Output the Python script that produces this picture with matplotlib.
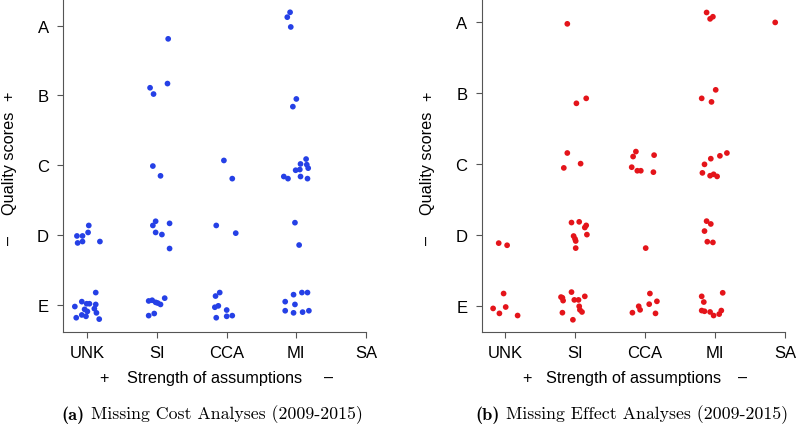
import matplotlib
matplotlib.use("Agg")
import matplotlib.pyplot as plt

# categories on the axes
categories = ['UNK', 'SI', 'CCA', 'MI', 'SA']
grades = ['E', 'D', 'C', 'B', 'A']

# (a) missing cost analyses, jittered points
cost_x = [0.85, 0.86, 0.93, 0.93, 1.01, 1.02, 1.18,
          1.12, 0.92, 0.99, 1.03, 0.82, 0.96, 1.00, 1.12, 1.10, 1.13, 0.92, 0.98, 0.84, 1.17,
          2.16, 1.90, 1.95, 2.15, 1.94, 2.05,
          1.94, 1.98, 2.18, 1.98, 2.07, 2.18,
          1.88, 1.93, 1.98, 2.01, 2.05, 2.11, 1.88, 1.96,
          2.96, 3.08, 2.85, 3.13,
          2.90, 2.84, 2.83, 2.88, 3.00, 2.85, 3.00, 3.08,
          3.87, 3.91, 3.92, 4.00, 3.95,
          4.14, 4.06, 4.15, 4.17, 3.99, 4.05, 3.82, 3.88, 4.06, 4.16,
          3.98, 4.04,
          4.08, 4.16, 3.96, 3.84, 3.98, 3.84, 3.96, 4.09, 4.18]
cost_y = [1.99, 1.89, 1.99, 1.91, 2.04, 2.14, 1.91,
          1.18, 1.05, 1.02, 1.02, 0.98, 0.94, 0.91, 1.01, 0.95, 0.89, 0.86, 0.84, 0.82, 0.80,
          4.81, 4.11, 4.02, 4.17, 2.99, 2.85,
          2.14, 2.20, 2.17, 2.04, 2.01, 1.81,
          1.06, 1.07, 1.04, 1.03, 1.01, 1.10, 0.85, 0.88,
          3.07, 2.81, 2.14, 2.03,
          1.18, 1.13, 0.97, 0.99, 0.93, 0.82, 0.84, 0.85,
          5.12, 5.19, 4.98, 3.95, 3.84,
          3.09, 3.02, 3.01, 2.96, 2.93, 2.94, 2.84, 2.81, 2.84, 2.81,
          2.18, 1.86,
          1.18, 1.18, 1.15, 1.05, 1.01, 0.92, 0.89, 0.90, 0.92]

# (b) missing effect analyses
effect_x = [0.91, 1.03, 0.98, 0.83, 1.01, 0.92, 1.18,
            1.89, 2.02, 2.16, 1.89, 2.08, 1.84,
            1.95, 2.06, 2.16, 2.14, 2.17, 1.98, 2.00, 2.01, 2.01,
            1.95, 1.80, 1.82, 1.83, 1.99, 2.05, 2.14, 2.06, 2.07, 2.10, 1.82, 1.97,
            2.87, 2.83, 3.13, 2.81, 2.89, 2.94, 3.12,
            3.01,
            3.07, 2.91, 2.93, 3.06, 3.17, 2.82, 3.15,
            3.88, 3.93, 3.97, 4.01, 3.81, 3.95,
            4.17, 4.07, 3.94, 3.85, 3.82, 3.98, 3.93, 4.03,
            3.88, 3.94, 3.85, 3.89, 3.97,
            4.11, 3.81, 3.84, 3.81, 3.85, 3.93, 3.98, 4.06, 4.09,
            4.86]
effect_y = [1.89, 1.86, 1.18, 0.97, 0.99, 0.90, 0.87,
            4.98, 3.86, 3.93, 3.16, 3.01, 2.95,
            2.18, 2.19, 2.14, 2.11, 2.01, 1.99, 1.95, 1.92, 1.82,
            1.20, 1.13, 1.12, 1.08, 1.09, 1.09, 1.14, 1.00, 0.95, 0.92, 0.91, 0.81,
            3.18, 3.11, 3.13, 2.96, 2.91, 2.91, 2.89,
            1.82,
            1.18, 1.00, 0.95, 1.03, 1.07, 0.91, 0.90,
            5.14, 5.05, 5.08, 4.05, 3.93, 3.88,
            3.16, 3.12, 3.08, 3.00, 2.88, 2.86, 2.84, 2.83,
            2.20, 2.16, 2.06, 1.91, 1.90,
            1.19, 1.14, 1.06, 0.94, 0.93, 0.92, 0.87, 0.89, 0.94,
            5.00]

captions = ['(a)', '(b)']
caption_texts = ['Missing Cost Analyses (2009-2015)', 'Missing Effect Analyses (2009-2015)']

plt.rcParams['font.family'] = ['Liberation Sans', 'DejaVu Sans']

fig = plt.figure(figsize=(7.98, 4.27), dpi=100)
ax1 = fig.add_axes([63/798, 1 - 332.7/427, 303/798, 332.7/427])
ax2 = fig.add_axes([481.7/798, 1 - 332.7/427, 303.3/798, 332.7/427])

panels = [(ax1, cost_x, cost_y, '#2540e6', (0.65, 5.0), (0.62, 5.38), 0.135, 0.875),
          (ax2, effect_x, effect_y, '#e4141a', (0.667, 5.0), (0.642, 5.33), 0.149, 0.861)]

for ax, xs, ys, col, xl, yl, xplus, xminus in panels:
    ax.scatter(xs, ys, s=17, color=col, edgecolors='none', zorder=3)
    ax.set_xlim(*xl)
    ax.set_ylim(*yl)
    ax.set_xticks(range(1, len(categories) + 1))
    ax.set_xticklabels(categories)
    ax.set_yticks(range(1, len(grades) + 1))
    ax.set_yticklabels(grades)
    for s in ['top', 'right']:
        ax.spines[s].set_visible(False)
    for s in ['left', 'bottom']:
        ax.spines[s].set_color('#555555')
        ax.spines[s].set_linewidth(0.8)
    ax.tick_params(axis='both', colors='#555555', labelcolor='black',
                   length=4.3, width=0.8, labelsize=12)
    ax.tick_params(axis='x', pad=5)
    ax.tick_params(axis='y', pad=6)

    # axis titles with + / – markers
    ax.text(0.5, -0.137, 'Strength of assumptions', transform=ax.transAxes,
            ha='center', va='center', fontsize=11.7)
    ax.text(xplus, -0.137, '+', transform=ax.transAxes, ha='center', va='center', fontsize=11.7)
    ax.text(xminus, -0.137, '\u2013', transform=ax.transAxes, ha='center', va='center', fontsize=11.7)
    ax.text(-0.178, 0.51, 'Quality scores', transform=ax.transAxes, rotation=90,
            ha='center', va='center', fontsize=11.7)
    ax.text(-0.178, 0.712, '+', transform=ax.transAxes, rotation=90,
            ha='center', va='center', fontsize=11.7)
    ax.text(-0.178, 0.277, '\u2013', transform=ax.transAxes, rotation=90,
            ha='center', va='center', fontsize=11.7)

# captions below each panel, centred on the panel
cap_center = [212, 632]
renderer = fig.canvas.get_renderer()
ycap = 1 - 415/427
for c, lab, txt in zip(cap_center, captions, caption_texts):
    t1 = fig.text(0, ycap, lab, family='cmb10', fontsize=13.2, ha='left', va='center')
    t2 = fig.text(0, ycap, txt, family='cmr10', fontsize=12.8, ha='left', va='center')
    w1 = t1.get_window_extent(renderer).width
    w2 = t2.get_window_extent(renderer).width
    gap = 6
    x0 = c - (w1 + gap + w2) / 2
    t1.set_x(x0 / 798)
    t2.set_x((x0 + w1 + gap) / 798)

plt.savefig('out.png', dpi=100)
plt.close()
